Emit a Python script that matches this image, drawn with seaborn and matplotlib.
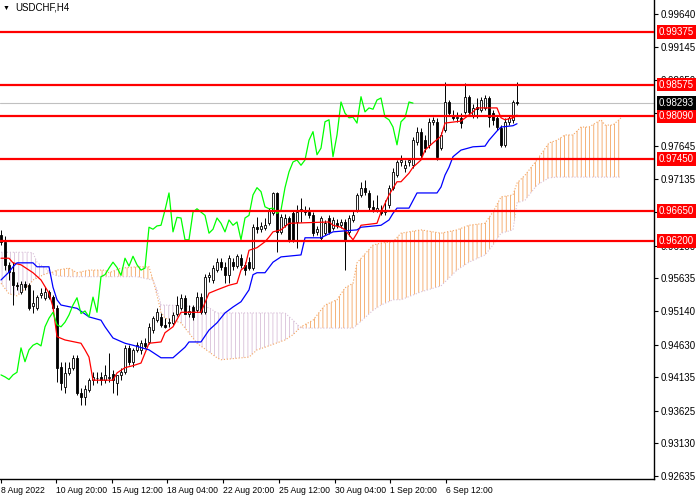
import numpy as np
import pandas as pd
import seaborn as sns
import matplotlib.pyplot as plt
import matplotlib.transforms as mtransforms

# ---- candles (H4 bars, oldest first) ----
opens = [0.9629, 0.9619, 0.9584, 0.9573, 0.9553, 0.9543, 0.9555, 0.9553, 0.9521, 0.9518,
         0.9538, 0.9534, 0.9543, 0.9535, 0.9518, 0.9429, 0.9399, 0.9420, 0.9428, 0.9443,
         0.9390, 0.9384, 0.9394, 0.9409, 0.9413, 0.9414, 0.9409, 0.9412, 0.9419, 0.9405,
         0.9417, 0.9421, 0.9458, 0.9437, 0.9455, 0.9455, 0.9465, 0.9467, 0.9485, 0.9500,
         0.9505, 0.9493, 0.9496, 0.9496, 0.9509, 0.9518, 0.9534, 0.9510, 0.9520, 0.9515,
         0.9535, 0.9512, 0.9566, 0.9561, 0.9576, 0.9588, 0.9580, 0.9568, 0.9588, 0.9582,
         0.9594, 0.9584, 0.9588, 0.9579, 0.9641, 0.9638, 0.9640, 0.9647, 0.9662, 0.9693,
         0.9634, 0.9644, 0.9655, 0.9663, 0.9649, 0.9667, 0.9667, 0.9664, 0.9659, 0.9634,
         0.9625, 0.9632, 0.9655, 0.9640, 0.9647, 0.9644, 0.9649, 0.9634, 0.9652, 0.9667,
         0.9690, 0.9701, 0.9693, 0.9672, 0.9667, 0.9667, 0.9664, 0.9675, 0.9701, 0.9720,
         0.9740, 0.9731, 0.9740, 0.9735, 0.9770, 0.9786, 0.9773, 0.9766, 0.9801, 0.9801,
         0.9761, 0.9789, 0.9831, 0.9811, 0.9807, 0.9807, 0.9816, 0.9839, 0.9811, 0.9823,
         0.9819, 0.9822, 0.9837, 0.9814, 0.9807, 0.9792, 0.9766, 0.9801, 0.9804, 0.9831]
highs = [0.9637, 0.9628, 0.9588, 0.9588, 0.9558, 0.9559, 0.9559, 0.9556, 0.9546, 0.9538,
         0.9549, 0.9550, 0.9546, 0.9538, 0.9523, 0.9437, 0.9437, 0.9437, 0.9447, 0.9447,
         0.9397, 0.9402, 0.9412, 0.9421, 0.9421, 0.9421, 0.9432, 0.9450, 0.9424, 0.9417,
         0.9428, 0.9462, 0.9462, 0.9458, 0.9467, 0.9470, 0.9473, 0.9496, 0.9506, 0.9518,
         0.9511, 0.9503, 0.9503, 0.9512, 0.9536, 0.9539, 0.9538, 0.9523, 0.9523, 0.9543,
         0.9541, 0.9570, 0.9573, 0.9584, 0.9594, 0.9594, 0.9588, 0.9599, 0.9594, 0.9600,
         0.9600, 0.9588, 0.9596, 0.9646, 0.9657, 0.9649, 0.9655, 0.9670, 0.9694, 0.9694,
         0.9661, 0.9661, 0.9658, 0.9667, 0.9675, 0.9685, 0.9673, 0.9672, 0.9664, 0.9643,
         0.9658, 0.9652, 0.9660, 0.9657, 0.9653, 0.9653, 0.9653, 0.9660, 0.9667, 0.9693,
         0.9710, 0.9713, 0.9698, 0.9682, 0.9690, 0.9675, 0.9682, 0.9705, 0.9731, 0.9743,
         0.9751, 0.9743, 0.9746, 0.9778, 0.9793, 0.9792, 0.9781, 0.9807, 0.9808, 0.9807,
         0.9786, 0.9861, 0.9834, 0.9819, 0.9816, 0.9814, 0.9860, 0.9842, 0.9828, 0.9837,
         0.9839, 0.9842, 0.9840, 0.9819, 0.9811, 0.9796, 0.9807, 0.9811, 0.9834, 0.9861]
lows = [0.9614, 0.9576, 0.9561, 0.9523, 0.9546, 0.9540, 0.9546, 0.9515, 0.9511, 0.9515,
        0.9534, 0.9531, 0.9532, 0.9512, 0.9406, 0.9394, 0.9390, 0.9417, 0.9424, 0.9387,
        0.9371, 0.9371, 0.9391, 0.9402, 0.9405, 0.9402, 0.9405, 0.9406, 0.9390, 0.9387,
        0.9409, 0.9418, 0.9432, 0.9429, 0.9452, 0.9449, 0.9458, 0.9464, 0.9481, 0.9497,
        0.9490, 0.9488, 0.9490, 0.9493, 0.9506, 0.9515, 0.9512, 0.9505, 0.9500, 0.9512,
        0.9509, 0.9509, 0.9558, 0.9557, 0.9573, 0.9576, 0.9557, 0.9557, 0.9576, 0.9579,
        0.9579, 0.9569, 0.9576, 0.9576, 0.9632, 0.9634, 0.9637, 0.9644, 0.9659, 0.9603,
        0.9630, 0.9641, 0.9619, 0.9619, 0.9610, 0.9649, 0.9659, 0.9655, 0.9628, 0.9629,
        0.9620, 0.9629, 0.9631, 0.9637, 0.9640, 0.9640, 0.9576, 0.9628, 0.9649, 0.9664,
        0.9687, 0.9690, 0.9667, 0.9664, 0.9664, 0.9659, 0.9659, 0.9670, 0.9698, 0.9717,
        0.9734, 0.9725, 0.9734, 0.9731, 0.9766, 0.9746, 0.9755, 0.9761, 0.9796, 0.9743,
        0.9758, 0.9786, 0.9810, 0.9804, 0.9801, 0.9792, 0.9813, 0.9811, 0.9807, 0.9807,
        0.9816, 0.9819, 0.9793, 0.9796, 0.9788, 0.9763, 0.9763, 0.9796, 0.9799, 0.9826]
closes = [0.9619, 0.9584, 0.9573, 0.9553, 0.9552, 0.9555, 0.9551, 0.9518, 0.9526, 0.9535,
          0.9541, 0.9543, 0.9535, 0.9518, 0.9428, 0.9405, 0.9420, 0.9428, 0.9443, 0.9390,
          0.9384, 0.9396, 0.9409, 0.9414, 0.9412, 0.9409, 0.9417, 0.9414, 0.9410, 0.9417,
          0.9421, 0.9458, 0.9437, 0.9455, 0.9462, 0.9465, 0.9461, 0.9490, 0.9503, 0.9512,
          0.9493, 0.9490, 0.9497, 0.9508, 0.9523, 0.9534, 0.9510, 0.9514, 0.9505, 0.9535,
          0.9512, 0.9566, 0.9569, 0.9579, 0.9588, 0.9580, 0.9568, 0.9594, 0.9582, 0.9597,
          0.9584, 0.9576, 0.9579, 0.9641, 0.9638, 0.9643, 0.9644, 0.9667, 0.9693, 0.9634,
          0.9656, 0.9655, 0.9622, 0.9622, 0.9664, 0.9669, 0.9664, 0.9659, 0.9632, 0.9638,
          0.9655, 0.9647, 0.9634, 0.9652, 0.9644, 0.9649, 0.9622, 0.9655, 0.9659, 0.9690,
          0.9701, 0.9695, 0.9672, 0.9669, 0.9670, 0.9662, 0.9667, 0.9701, 0.9725, 0.9740,
          0.9743, 0.9735, 0.9743, 0.9773, 0.9786, 0.9751, 0.9761, 0.9801, 0.9804, 0.9748,
          0.9781, 0.9831, 0.9814, 0.9807, 0.9808, 0.9799, 0.9839, 0.9816, 0.9822, 0.9820,
          0.9834, 0.9837, 0.9808, 0.9804, 0.9793, 0.9766, 0.9801, 0.9807, 0.9831, 0.98293]

# ---- Ichimoku lines (bar index, price) ----
tenkan_bar = [0, 2, 3, 5, 8, 10, 12, 13, 14, 16, 20, 21, 22, 23, 28, 29, 31, 33, 35, 37,
              40, 41, 43, 45, 50, 52, 54, 57, 59, 60, 61, 62, 64, 66, 67, 68, 70, 72, 82, 83,
              85, 86, 88, 89, 90, 94, 95, 97, 99, 100, 102, 103, 105, 106, 108, 110, 111, 115,
              118, 119, 124, 125, 126, 128, 129]
tenkan_val = [0.9594, 0.9594, 0.9587, 0.9584, 0.9572, 0.9561, 0.9541, 0.9520, 0.9475, 0.9470,
              0.9465, 0.9455, 0.9444, 0.9409, 0.9409, 0.9420, 0.9428, 0.9431, 0.9435, 0.9465,
              0.9467, 0.9481, 0.9490, 0.9512, 0.9512, 0.9541, 0.9546, 0.9553, 0.9556, 0.9576,
              0.9581, 0.9606, 0.9610, 0.9619, 0.9626, 0.9634, 0.9637, 0.9647, 0.9649, 0.9644,
              0.9641, 0.9637, 0.9622, 0.9632, 0.9644, 0.9647, 0.9664, 0.9690, 0.9710, 0.9710,
              0.9723, 0.9732, 0.9743, 0.9758, 0.9769, 0.9779, 0.9799, 0.9802, 0.9816, 0.9822,
              0.9822, 0.9807, 0.9804, 0.9807, 0.9811]
kijun_bar = [0, 2, 3, 4, 8, 9, 12, 13, 14, 15, 19, 22, 25, 26, 28, 31, 33, 37, 40, 43,
             46, 47, 50, 52, 54, 56, 58, 60, 62, 63, 64, 66, 68, 70, 75, 76, 80, 81, 83, 89,
             90, 95, 97, 98, 99, 102, 104, 109, 110, 111, 112, 113, 115, 118, 121, 122, 124,
             125, 128, 129]
kijun_val = [0.9561, 0.9573, 0.9581, 0.9587, 0.9587, 0.9581, 0.9581, 0.9550, 0.9531, 0.9523,
             0.9518, 0.9505, 0.9500, 0.9490, 0.9473, 0.9465, 0.9462, 0.9455, 0.9443, 0.9443,
             0.9459, 0.9467, 0.9467, 0.9485, 0.9496, 0.9511, 0.9520, 0.9528, 0.9546, 0.9569,
             0.9572, 0.9572, 0.9588, 0.9596, 0.9599, 0.9625, 0.9625, 0.9628, 0.9634, 0.9637,
             0.9641, 0.9644, 0.9652, 0.9662, 0.9670, 0.9670, 0.9693, 0.9693, 0.9702, 0.9720,
             0.9732, 0.9748, 0.9758, 0.9763, 0.9764, 0.9773, 0.9787, 0.9793, 0.9795, 0.9798]
cloud_bar = [0, 2, 4, 7, 8, 9, 11, 13, 14, 17, 19, 22, 26, 27, 30, 34, 37, 38, 39, 40,
             41, 45, 49, 52, 54, 55, 62, 64, 66, 71, 73, 75, 78, 81, 84, 86, 88, 89, 93, 95,
             98, 100, 105, 110, 114, 117, 121, 123, 125, 128, 129, 131, 134, 137, 139, 141,
             143, 145, 147, 150, 151, 153, 155]
span_a = [0.9556, 0.9540, 0.9537, 0.9553, 0.9561, 0.9564, 0.9570, 0.9573, 0.9576, 0.9579,
          0.9572, 0.9576, 0.9576, 0.9572, 0.9579, 0.9581, 0.9581, 0.9561, 0.9538, 0.9512,
          0.9503, 0.9496, 0.9465, 0.9452, 0.9443, 0.9440, 0.9444, 0.9455, 0.9459, 0.9470,
          0.9478, 0.9490, 0.9500, 0.9523, 0.9531, 0.9549, 0.9556, 0.9587, 0.9614, 0.9617,
          0.9619, 0.9632, 0.9637, 0.9632, 0.9637, 0.9644, 0.9647, 0.9664, 0.9687, 0.9690,
          0.9708, 0.9720, 0.9743, 0.9769, 0.9773, 0.9781, 0.9781, 0.9793, 0.9793, 0.9804,
          0.9796, 0.9796, 0.9807]
span_b = [0.9603, 0.9603, 0.9603, 0.9603, 0.9602, 0.9588, 0.9579, 0.9570, 0.9567, 0.9566,
          0.9566, 0.9566, 0.9566, 0.9566, 0.9566, 0.9566, 0.9562, 0.9561, 0.9546, 0.9523,
          0.9523, 0.9522, 0.9520, 0.9519, 0.9511, 0.9511, 0.9511, 0.9511, 0.9511, 0.9511,
          0.9500, 0.9488, 0.9488, 0.9488, 0.9488, 0.9488, 0.9488, 0.9493, 0.9515, 0.9523,
          0.9531, 0.9531, 0.9543, 0.9552, 0.9576, 0.9588, 0.9599, 0.9614, 0.9632, 0.9637,
          0.9678, 0.9682, 0.9705, 0.9716, 0.9717, 0.9717, 0.9717, 0.9717, 0.9717, 0.9717,
          0.9717, 0.9717, 0.9717]

levels = [0.99375, 0.98575, 0.98090, 0.97450, 0.96650, 0.96200]
last_price = 0.98293
price_ticks = [0.99640, 0.99145, 0.98650, 0.98145, 0.97645, 0.97135, 0.96640, 0.96130,
               0.95635, 0.95140, 0.94630, 0.94135, 0.93625, 0.93130, 0.92635]
date_ticks = [0, 13.75, 27.75, 41.5, 55.5, 69.5, 83.5, 97.25, 111.25]
date_labels = ["8 Aug 2022", "10 Aug 20:00", "15 Aug 12:00", "18 Aug 04:00", "22 Aug 20:00",
               "25 Aug 12:00", "30 Aug 04:00", "1 Sep 20:00", "6 Sep 12:00"]

CHIKOU_SHIFT = 26

sns.set_theme(style="white")
plt.rcParams["font.family"] = ["Liberation Sans", "DejaVu Sans"]
plt.rcParams["hatch.linewidth"] = 0.6

df = pd.DataFrame({"open": opens, "high": highs, "low": lows, "close": closes})
df["bar"] = np.arange(len(df))
df["up"] = df["close"] >= df["open"]

fig = plt.figure(figsize=(7, 5), dpi=100, facecolor="white")
ax = fig.add_axes([0, 21 / 500, 654 / 700, 479 / 500])
ax.set_facecolor("white")

# cloud (hatched between the two spans)
cb = np.array(cloud_bar)
sa = np.array(span_a)
sb = np.array(span_b)
ax.fill_between(cb, sa, sb, where=sa >= sb, interpolate=True, facecolor="none",
                edgecolor="#F4A460", hatch="||||", lw=0, zorder=1)
ax.fill_between(cb, sa, sb, where=sa < sb, interpolate=True, facecolor="none",
                edgecolor="#D8BFD8", hatch="||||", lw=0, zorder=1)
sns.lineplot(x=cb, y=sa, ax=ax, color="#F4A460", lw=0.8, linestyle=":", sort=False, zorder=1)
sns.lineplot(x=cb, y=sb, ax=ax, color="#D8BFD8", lw=0.8, linestyle=":", sort=False, zorder=1)

# current bid line
ax.axhline(last_price, color="#c0c0c0", lw=0.8, zorder=1.5)

# candles
ax.vlines(df["bar"], df["low"], df["high"], color="black", lw=0.7, zorder=2)
body_lo = df[["open", "close"]].min(axis=1)
body_h = (df["close"] - df["open"]).abs()
ax.bar(df["bar"], body_h, bottom=body_lo, width=0.72,
       color=np.where(df["up"], "white", "black"), edgecolor="black", lw=0.6, zorder=3)

# tenkan / kijun / chikou
sns.lineplot(x=tenkan_bar, y=tenkan_val, ax=ax, color="#ff0000", lw=0.9, sort=False, zorder=4)
sns.lineplot(x=kijun_bar, y=kijun_val, ax=ax, color="#0000ff", lw=0.9, sort=False, zorder=4)
sns.lineplot(x=df["bar"][CHIKOU_SHIFT:] - CHIKOU_SHIFT, y=df["close"][CHIKOU_SHIFT:], ax=ax,
             color="#00ff00", lw=0.9, sort=False, zorder=4)

# horizontal levels
for lv in levels:
    ax.axhline(lv, color="#ff0000", lw=1.6, zorder=5)

ax.set_xlim(-0.25, 163.25)
ax.set_ylim(0.92591, 0.99857)

for s in ["left", "top"]:
    ax.spines[s].set_visible(False)
for s in ["right", "bottom"]:
    ax.spines[s].set_visible(True)
    ax.spines[s].set_color("black")
    ax.spines[s].set_linewidth(1.0)

ax.set_yticks(price_ticks, labels=[f"{t:.5f}" for t in price_ticks])
ax.tick_params(axis="y", left=False, labelleft=False, right=True, labelright=True,
               direction="out", length=3, width=0.8, color="black", labelsize=7,
               labelcolor="black", pad=2)
ax.set_xticks(date_ticks, labels=date_labels)
ax.tick_params(axis="x", bottom=True, direction="out", length=3, width=0.8, color="black",
               labelsize=6.2, labelcolor="black", pad=2)
plt.setp(ax.get_xticklabels(), ha="left")
ax.set_xlabel("")
ax.set_ylabel("")
ax.grid(False)

# price labels on the right axis
trans = mtransforms.blended_transform_factory(ax.transAxes, ax.transData)
for lv in levels:
    ax.text(1 + 5 / 654, lv, f"{lv:.5f}", transform=trans, ha="left", va="center",
            fontsize=7, color="white", clip_on=False, zorder=10,
            bbox=dict(boxstyle="square,pad=0.2", fc="#ff0000", ec="none"))
ax.text(1 + 5 / 654, last_price, f"{last_price:.5f}", transform=trans, ha="left",
        va="center", fontsize=7, color="white", clip_on=False, zorder=10,
        bbox=dict(boxstyle="square,pad=0.2", fc="black", ec="none"))

fig.text(3 / 700, 1 - 8 / 500, "\u25bc", fontsize=5, va="center", ha="left", color="black")
fig.text(15 / 700, 1 - 8 / 500, "USDCHF,H4", fontsize=7, va="center", ha="left", color="black")

fig.savefig("out.png", dpi=100, facecolor="white")
